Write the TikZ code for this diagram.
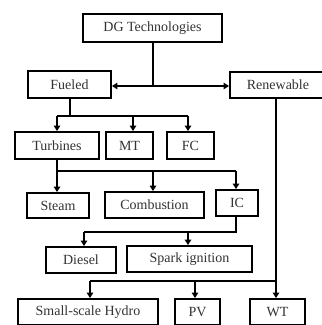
\documentclass[tikz,border=0pt]{standalone}
\usepackage{fontspec}
\setmainfont{Liberation Serif}
\usetikzlibrary{arrows.meta}
\begin{document}
\begin{tikzpicture}[x=1pt,y=-1pt,
  box/.style={draw=black,line width=1.9pt,inner sep=0pt,font=\fontsize{14}{16}\selectfont,text=black!80},
  ln/.style={line width=1.4pt},
  arr/.style={line width=1.4pt,-{Triangle[length=5.5pt,width=6.5pt]}}]
\useasboundingbox (0,0) rectangle (322,325);
\fill[white] (0,0) rectangle (322,325);
% boxes
\node[box,minimum width=139pt,minimum height=28pt] (dg) at (152.5,28) {DG Technologies};
\node[box,minimum width=83pt,minimum height=27pt] (fu) at (69.5,84.5) {Fueled};
\node[box,minimum width=96pt,minimum height=26pt] (re) at (278,85) {Renewable};
\node[box,minimum width=84pt,minimum height=27pt] (tb) at (57,145.5) {Turbines};
\node[box,minimum width=47pt,minimum height=27pt] (mt) at (129.5,145.5) {MT};
\node[box,minimum width=47pt,minimum height=27pt] (fc) at (190.5,145.5) {FC};
\node[box,minimum width=62pt,minimum height=25pt] (st) at (58,205.5) {Steam};
\node[box,minimum width=99pt,minimum height=26pt] (co) at (154.5,205) {Combustion};
\node[box,minimum width=42pt,minimum height=26pt] (ic) at (237,203) {IC};
\node[box,minimum width=70pt,minimum height=26pt] (di) at (81,260) {Diesel};
\node[box,minimum width=125pt,minimum height=26pt] (sp) at (189.5,259) {Spark ignition};
\node[box,minimum width=140pt,minimum height=26pt] (hy) at (88,312) {Small-scale Hydro};
\node[box,minimum width=45pt,minimum height=26pt] (pv) at (197.5,312) {PV};
\node[box,minimum width=55pt,minimum height=26pt] (wt) at (277.5,312) {WT};
% junction coordinates
\coordinate (j1) at (153,86);
\coordinate (j2) at (70,116);
\coordinate (j2a) at (57,116);
\coordinate (j2b) at (133,116);
\coordinate (j2c) at (188,116);
\coordinate (j3) at (57,171);
\coordinate (j3b) at (153,171);
\coordinate (j3c) at (236,171);
\coordinate (j4) at (236,232);
\coordinate (j4a) at (84,232);
\coordinate (j4b) at (188,232);
\coordinate (j5) at (276,281);
\coordinate (j5a) at (90,281);
\coordinate (j5b) at (195,281);
% connectors
\draw[ln] (dg.south -| j1) -- (j1);
\draw[arr] (j1) -- (fu.east |- j1);
\draw[arr] (j1) -- (re.west |- j1);
\draw[ln] (fu.south -| j2) -- (j2);
\draw[ln] (j2a) -- (j2c);
\draw[arr] (j2a) -- (j2a |- tb.north);
\draw[arr] (j2b) -- (j2b |- mt.north);
\draw[arr] (j2c) -- (j2c |- fc.north);
\draw[ln] (tb.south -| j3) -- (j3) -- (j3c);
\draw[arr] (j3) -- (j3 |- st.north);
\draw[arr] (j3b) -- (j3b |- co.north);
\draw[arr] (j3c) -- (j3c |- ic.north);
\draw[ln] (ic.south -| j4) -- (j4) -- (j4a);
\draw[arr] (j4a) -- (j4a |- di.north);
\draw[arr] (j4b) -- (j4b |- sp.north);
\draw[ln] (re.south -| j5) -- (j5) -- (j5a);
\draw[arr] (j5) -- (j5 |- wt.north);
\draw[arr] (j5a) -- (j5a |- hy.north);
\draw[arr] (j5b) -- (j5b |- pv.north);
\end{tikzpicture}
\end{document}
